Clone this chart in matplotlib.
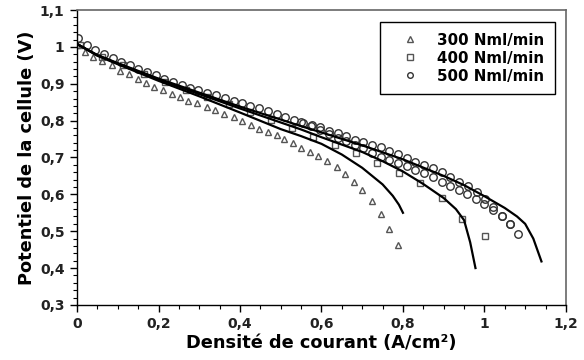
import matplotlib
matplotlib.use("Agg")
import matplotlib.pyplot as plt
from matplotlib.ticker import MultipleLocator, FuncFormatter

# ---- data ----
tri_x = [0.0, 0.02, 0.04, 0.062, 0.085, 0.105, 0.128, 0.149, 0.169, 0.19, 0.21, 0.232, 0.253,
         0.273, 0.295, 0.318, 0.339, 0.361, 0.384, 0.404, 0.426, 0.447, 0.468, 0.49, 0.509,
         0.529, 0.55, 0.572, 0.592, 0.614, 0.637, 0.658, 0.68, 0.70, 0.723, 0.745, 0.765, 0.787]
tri_v = [1.005, 0.986, 0.973, 0.962, 0.951, 0.935, 0.926, 0.912, 0.903, 0.892, 0.883, 0.872, 0.863,
         0.854, 0.847, 0.836, 0.829, 0.817, 0.809, 0.800, 0.788, 0.776, 0.768, 0.761, 0.749,
         0.738, 0.727, 0.716, 0.703, 0.690, 0.673, 0.654, 0.633, 0.613, 0.582, 0.546, 0.505, 0.463]

sq_x = [0.008, 0.06, 0.112, 0.164, 0.216, 0.268, 0.32, 0.372, 0.424, 0.476, 0.528,
        0.58, 0.633, 0.685, 0.737, 0.79, 0.842, 0.895, 0.946, 1.001]
sq_v = [1.005, 0.972, 0.950, 0.927, 0.905, 0.884, 0.864, 0.844, 0.824, 0.802, 0.780,
        0.756, 0.734, 0.711, 0.686, 0.658, 0.630, 0.590, 0.532, 0.488]

circ_x = [0.003, 0.024, 0.044, 0.065, 0.087, 0.108, 0.130, 0.150, 0.171, 0.193, 0.213, 0.235,
          0.257, 0.277, 0.298, 0.318, 0.340, 0.362, 0.384, 0.404, 0.425, 0.447, 0.468, 0.490,
          0.511, 0.532, 0.554, 0.576, 0.596, 0.619, 0.640, 0.660, 0.682, 0.703, 0.723, 0.746,
          0.766, 0.789, 0.809, 0.830, 0.852, 0.873, 0.895, 0.915, 0.937, 0.959, 0.981, 1.001,
          1.022, 1.042, 1.063, 1.083]
circ_v = [1.023, 1.005, 0.993, 0.982, 0.971, 0.960, 0.951, 0.939, 0.933, 0.924, 0.912, 0.906,
          0.898, 0.889, 0.883, 0.876, 0.870, 0.862, 0.854, 0.847, 0.840, 0.833, 0.826, 0.818,
          0.810, 0.802, 0.794, 0.788, 0.782, 0.771, 0.766, 0.758, 0.747, 0.741, 0.734, 0.728,
          0.717, 0.710, 0.700, 0.689, 0.681, 0.671, 0.660, 0.648, 0.634, 0.623, 0.607, 0.587,
          0.565, 0.541, 0.520, 0.493]

circ2_x = [0.55, 0.574, 0.596, 0.618, 0.640, 0.661, 0.682, 0.703, 0.725, 0.747, 0.766, 0.789,
           0.809, 0.830, 0.852, 0.873, 0.895, 0.915, 0.937, 0.958, 0.979, 0.999, 1.020, 1.042, 1.063]
circ2_v = [0.796, 0.785, 0.774, 0.763, 0.753, 0.744, 0.734, 0.725, 0.713, 0.702, 0.694, 0.686,
           0.677, 0.666, 0.657, 0.646, 0.634, 0.623, 0.612, 0.601, 0.587, 0.574, 0.558, 0.540, 0.520]

m500_x = [0.0, 0.05, 0.1, 0.2, 0.3, 0.4, 0.5, 0.55, 0.6, 0.7, 0.8, 0.9, 0.95, 1.0, 1.05, 1.08, 1.1, 1.12, 1.14]
m500_v = [1.008, 0.978, 0.956, 0.914, 0.876, 0.838, 0.803, 0.785, 0.768, 0.733, 0.695, 0.650, 0.625,
          0.595, 0.563, 0.540, 0.520, 0.480, 0.418]
m400_x = [0.0, 0.05, 0.1, 0.2, 0.3, 0.4, 0.5, 0.55, 0.6, 0.65, 0.7, 0.75, 0.8, 0.85, 0.9, 0.93, 0.95, 0.965, 0.978]
m400_v = [1.008, 0.977, 0.955, 0.912, 0.872, 0.833, 0.795, 0.776, 0.755, 0.735, 0.715, 0.690, 0.662,
          0.628, 0.590, 0.560, 0.530, 0.470, 0.400]
m300_x = [0.0, 0.05, 0.1, 0.2, 0.3, 0.4, 0.5, 0.55, 0.6, 0.65, 0.7, 0.75, 0.775, 0.79, 0.80]
m300_v = [1.008, 0.976, 0.953, 0.908, 0.866, 0.822, 0.777, 0.758, 0.737, 0.708, 0.672, 0.627,
          0.596, 0.572, 0.550]

labels = ["300 Nml/min", "400 Nml/min", "500 Nml/min"]

# ---- plot ----
plt.rcParams['font.family'] = ['DejaVu Sans']
fig = plt.figure(figsize=(5.84, 3.60), dpi=100)
ax = fig.add_axes([0.132, 0.153, 0.837, 0.819])

mc = '#555555'
for mx, mv in [(m500_x, m500_v), (m400_x, m400_v), (m300_x, m300_v)]:
    ax.plot(mx, mv, color='black', lw=1.6, zorder=3)

ax.plot(tri_x, tri_v, ls='none', marker='^', ms=5.0, mfc='none', mec=mc, mew=1.0, label=labels[0], zorder=2)
ax.plot(sq_x, sq_v, ls='none', marker='s', ms=5.0, mfc='none', mec=mc, mew=1.0, label=labels[1], zorder=2)
ax.plot(circ_x, circ_v, ls='none', marker='o', ms=5.4, mfc='none', mec='#333333', mew=1.0, label=labels[2], zorder=2)
ax.plot(circ2_x, circ2_v, ls='none', marker='o', ms=5.4, mfc='none', mec='#333333', mew=1.0, zorder=2)

ax.set_xlim(0, 1.2)
ax.set_ylim(0.3, 1.1)
ax.xaxis.set_major_locator(MultipleLocator(0.2))
ax.xaxis.set_minor_locator(MultipleLocator(0.05))
ax.yaxis.set_major_locator(MultipleLocator(0.1))
ax.yaxis.set_minor_locator(MultipleLocator(0.02))

def fmt(v, pos):
    s = ('%.1f' % v)
    if s.endswith('.0'):
        s = s[:-2]
    return s.replace('.', ',')

ax.xaxis.set_major_formatter(FuncFormatter(fmt))
ax.yaxis.set_major_formatter(FuncFormatter(fmt))
ax.tick_params(axis='both', which='major', direction='out', length=5, width=1, labelsize=10, pad=4)
ax.tick_params(axis='both', which='minor', direction='out', length=3, width=0.8)
ax.tick_params(top=False, right=False, which='both')
for lab in ax.get_xticklabels() + ax.get_yticklabels():
    lab.set_fontweight('bold')
    lab.set_color('#222222')

for s in ['top', 'right']:
    ax.spines[s].set_color('#666666')
    ax.spines[s].set_linewidth(1.2)
for s in ['left', 'bottom']:
    ax.spines[s].set_color('black')
    ax.spines[s].set_linewidth(1.0)

ax.set_xlabel("Densité de courant (A/cm²)", fontsize=12.8, fontweight='bold', labelpad=2)
ax.set_ylabel("Potentiel de la cellule (V)", fontsize=12.8, fontweight='bold', labelpad=3)

leg = ax.legend(loc='upper right', bbox_to_anchor=(0.9775, 0.959), borderaxespad=0,
                frameon=True, fancybox=False,
                edgecolor='black', framealpha=1, prop={'weight': 'bold', 'size': 10.8},
                handlelength=2.6, handletextpad=0.5, borderpad=0.7, labelspacing=0.2,
                markerscale=0.75)
leg.get_frame().set_linewidth(1.0)

fig.savefig("out.png", dpi=100)
